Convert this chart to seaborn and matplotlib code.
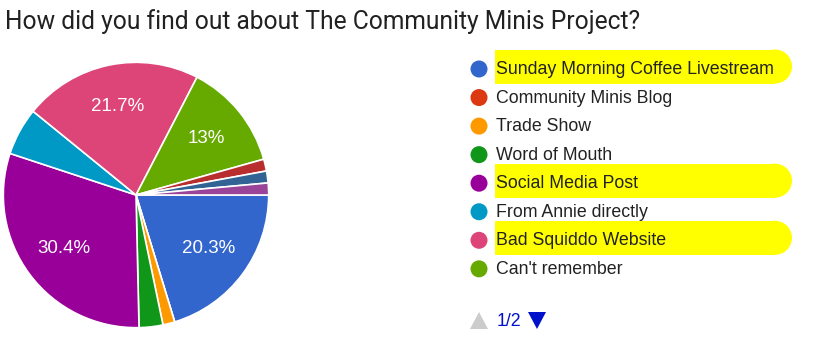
import matplotlib
matplotlib.use("Agg")
import matplotlib.pyplot as plt
import seaborn as sns
from matplotlib.patches import Rectangle, Ellipse, Polygon

sns.set_theme(style="white")
plt.rcParams['font.family'] = ['Liberation Sans', 'DejaVu Sans']

title = "How did you find out about The Community Minis Project?"
categories = ["Sunday Morning Coffee Livestream", "Community Minis Blog", "Trade Show",
              "Word of Mouth", "Social Media Post", "From Annie directly",
              "Bad Squiddo Website", "Can't remember",
              "Page 2 option A", "Page 2 option B", "Page 2 option C"]
counts = [14, 0, 1, 2, 21, 4, 15, 9, 1, 1, 1]
colors = ["#3366cc", "#dc3912", "#ff9900", "#109618", "#990099", "#0099c6",
          "#dd4477", "#66aa00", "#b82e2e", "#316395", "#994499"]
highlighted = ["Sunday Morning Coffee Livestream", "Social Media Post", "Bad Squiddo Website"]
legend_shown = 8
page_text = "1/2"

W, H = 826, 343
fig = plt.figure(figsize=(W / 100, H / 100), dpi=100)

# pie axes
cx, cy, r = 136, 195, 134
ax = fig.add_axes([(cx - r) / W, (H - cy - r) / H, 2 * r / W, 2 * r / H])

def fmt(p):
    return f"{p:.1f}%".replace(".0%", "%") if p >= 10 else ""

wedges, texts, autotexts = ax.pie(
    counts, colors=colors, startangle=0, counterclock=False,
    autopct=fmt, pctdistance=0.68,
    wedgeprops=dict(edgecolor="white", linewidth=1.2),
    textprops=dict(color="white", fontsize=13.5))
ax.set_xlim(-1.01, 1.01)
ax.set_ylim(-1.01, 1.01)
ax.set_aspect("auto")
ax.axis("off")

# overlay in pixel coords
ov = fig.add_axes([0, 0, 1, 1], zorder=-1)
ov.set_xlim(0, W)
ov.set_ylim(H, 0)
ov.axis("off")
ov.patch.set_alpha(0)

ov.text(5, 22, title, fontsize=17.7, color="#212121", va="center", ha="left",
        family=['Roboto', 'DejaVu Sans'])

y0, dy = 69, 28.55
for i in range(legend_shown):
    y = y0 + i * dy
    name = categories[i]
    if name in highlighted:
        hh = 34
        ov.add_patch(Rectangle((495, y - hh / 2 - 2.5), 280, hh, color="#ffff00", lw=0, zorder=1))
        ov.add_patch(Ellipse((775, y - 2.5), 34, hh, color="#ffff00", lw=0, zorder=1))
    ov.add_patch(Ellipse((479, y), 17, 17, color=colors[i], lw=0, zorder=2))
    ov.text(496, y + 0.5, name, fontsize=12.8, color="#222222", va="center", ha="left", zorder=3)

py = 321
ov.add_patch(Polygon([[470, py + 8], [488, py + 8], [479, py - 9]], color="#cccccc", lw=0))
ov.text(497, py, page_text, fontsize=12.8, color="#0011cc", va="center", ha="left")
ov.add_patch(Polygon([[528, py - 9], [546, py - 9], [537, py + 8]], color="#0011cc", lw=0))

fig.savefig("out.png", dpi=100, facecolor="white")
